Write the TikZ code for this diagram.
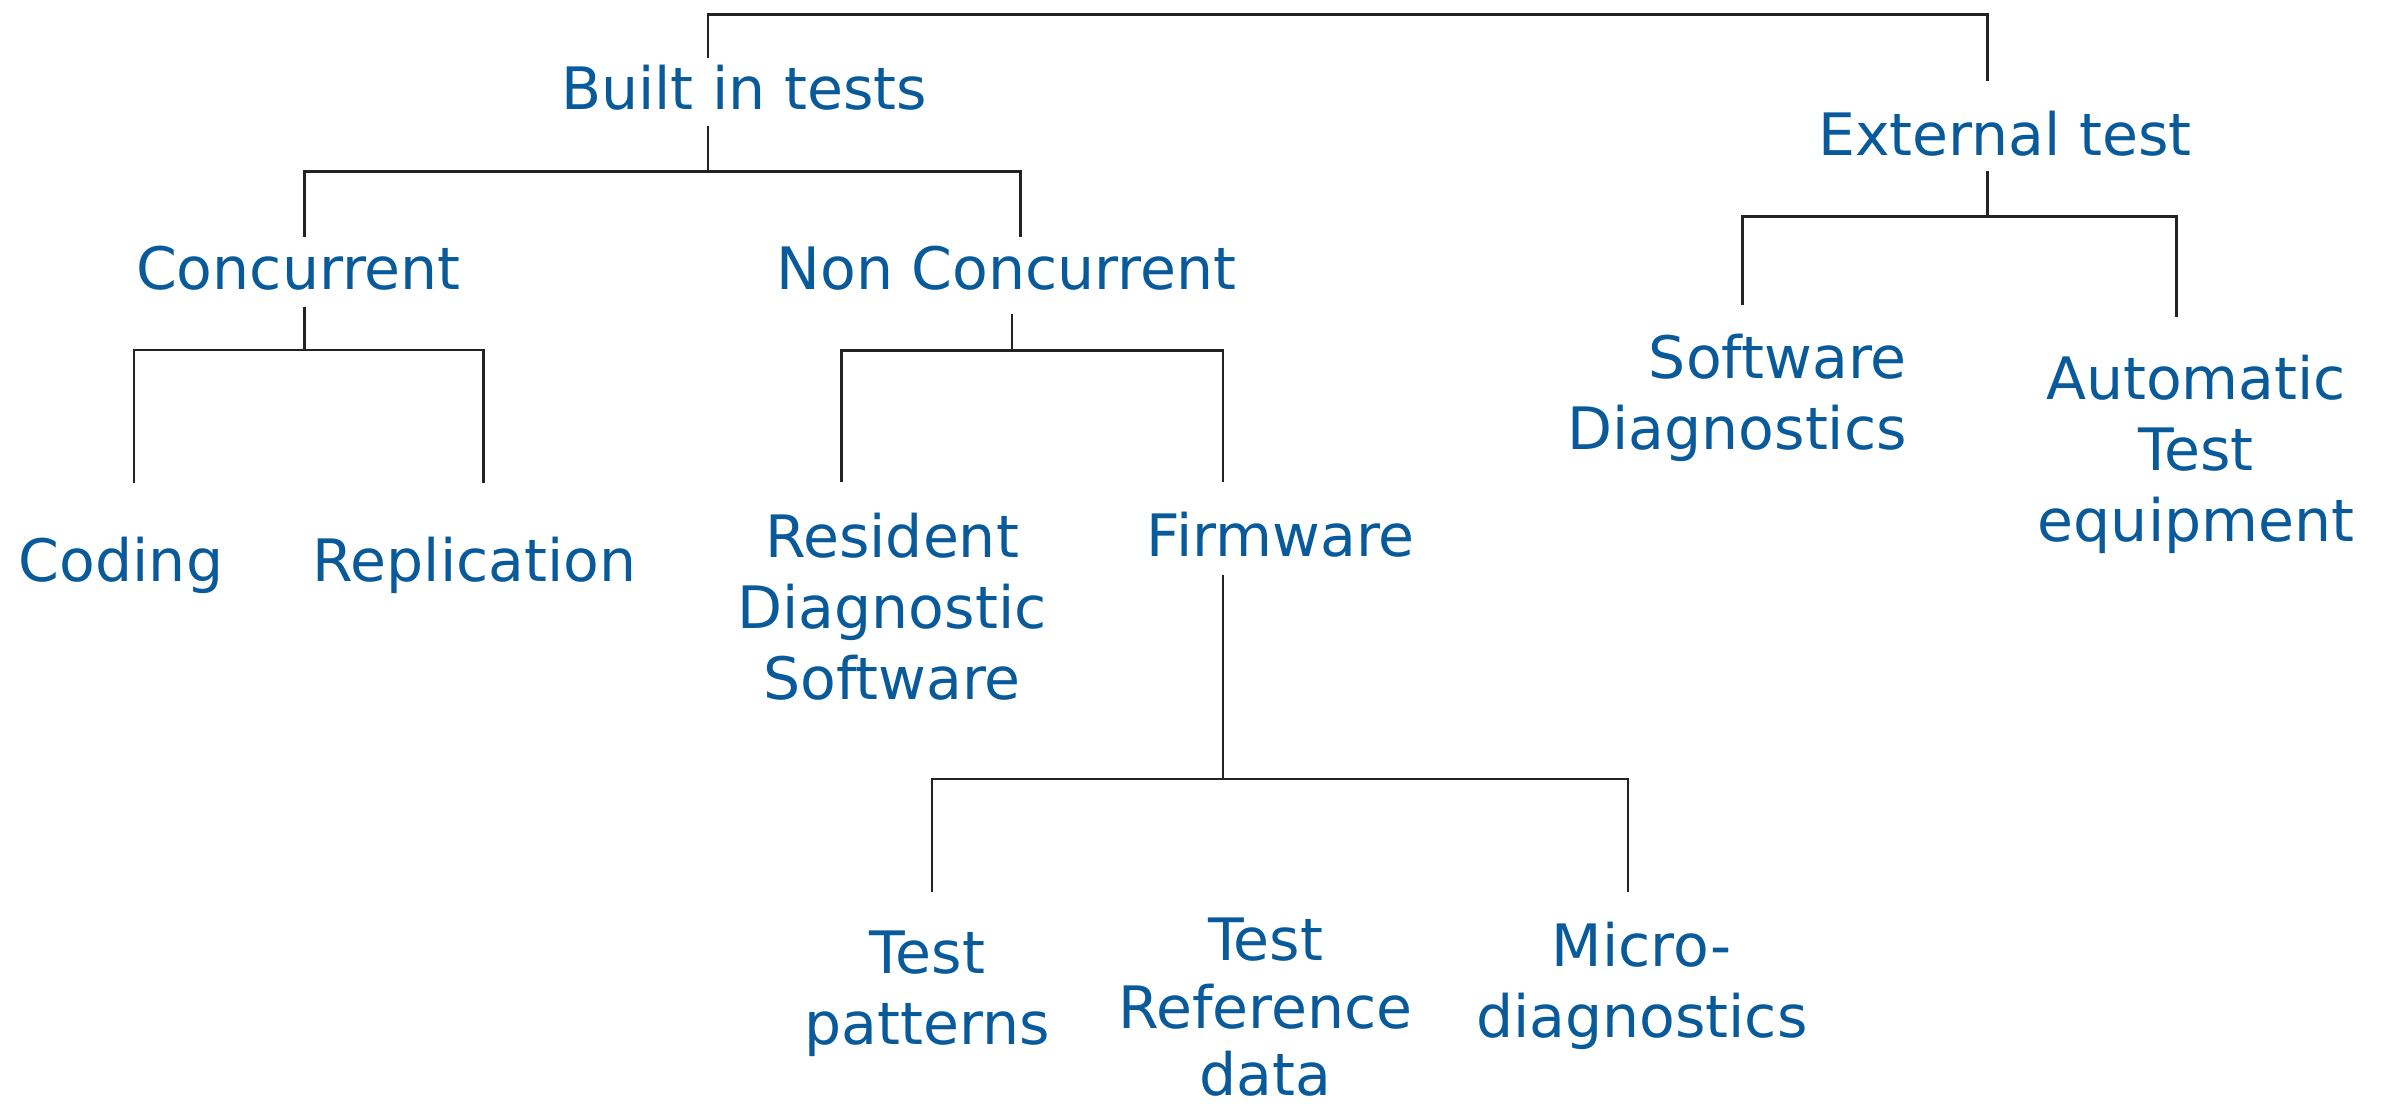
\documentclass[tikz,border=0pt]{standalone}
\usepackage{fontspec}
\setmainfont{DejaVu Sans}
\definecolor{txtblue}{RGB}{8,90,154}
\definecolor{linegray}{RGB}{35,35,35}
\begin{document}
\begin{tikzpicture}[x=0.5pt,y=-0.5pt,
  lbl/.style={text=txtblue, inner sep=0pt, outer sep=0pt, align=center,
    font=\fontsize{19.2pt}{23.35pt}\selectfont, anchor=base},
  conn/.style={draw=linegray, line width=0.85pt}]
\useasboundingbox (0,0) rectangle (1568,731);

% labels (multi-line nodes are placed by the baseline of their last line)
\node[lbl] (bit) at (488.5,72.2) {Built in tests};
\node[lbl] (ext) at (1316.5,101.8) {External test};
\node[lbl] (conc) at (196,190.4) {Concurrent};
\node[lbl] (nconc) at (661,190.4) {Non Concurrent};
\node[lbl] (coding) at (79.5,382) {Coding};
\node[lbl] (repl) at (311.6,382) {Replication};
\node[lbl] (rds) at (585.7,459.6) {Resident\\Diagnostic\\Software};
\node[lbl] (firm) at (841,365.5) {Firmware};
\node[lbl, align=right, anchor=base east] (swd) at (1252,295) {Software\\Diagnostics};
\node[lbl] (ate) at (1442,355.5) {Automatic\\Test\\equipment};
\node[lbl] (tpat) at (609,686) {Test\\patterns};
\node[lbl, font=\fontsize{19.2pt}{22pt}\selectfont] (tref) at (831,719) {Test\\Reference\\data};
\node[lbl] (micro) at (1078,681) {Micro-\\diagnostics};

% connector end points
\coordinate (bitT) at (465,38.3);
\coordinate (extT) at (1305,53.5);
\coordinate (top) at (885,9.5);
\coordinate (bitB) at (465,82.7);
\coordinate (bitJ) at (465,112.7);
\coordinate (concT) at (200,155.8);
\coordinate (nconcT) at (670,155.8);
\coordinate (concB) at (200,201.4);
\coordinate (concJ) at (200,229.8);
\coordinate (codingT) at (88,317.3);
\coordinate (replT) at (317.6,317.3);
\coordinate (nconcB) at (664.6,206);
\coordinate (nconcJ) at (664.6,230);
\coordinate (rdsT) at (552.7,316.5);
\coordinate (firmT) at (803,316.5);
\coordinate (firmB) at (803,377.5);
\coordinate (firmJ) at (803,511.5);
\coordinate (tpatT) at (612,586);
\coordinate (microT) at (1069,586);
\coordinate (extB) at (1305,112.6);
\coordinate (extJ) at (1305,142);
\coordinate (swdT) at (1144,200);
\coordinate (ateT) at (1429,208);

% connectors
\draw[conn] (bitT) |- (top) -| (extT);
\draw[conn] (bitB) -- (bitJ) -| (concT);
\draw[conn] (bitJ) -| (nconcT);
\draw[conn] (concB) -- (concJ) -| (codingT);
\draw[conn] (concJ) -| (replT);
\draw[conn] (nconcB) -- (nconcJ) -| (rdsT);
\draw[conn] (nconcJ) -| (firmT);
\draw[conn] (firmB) -- (firmJ) -| (tpatT);
\draw[conn] (firmJ) -| (microT);
\draw[conn] (extB) -- (extJ) -| (swdT);
\draw[conn] (extJ) -| (ateT);
\end{tikzpicture}
\end{document}
